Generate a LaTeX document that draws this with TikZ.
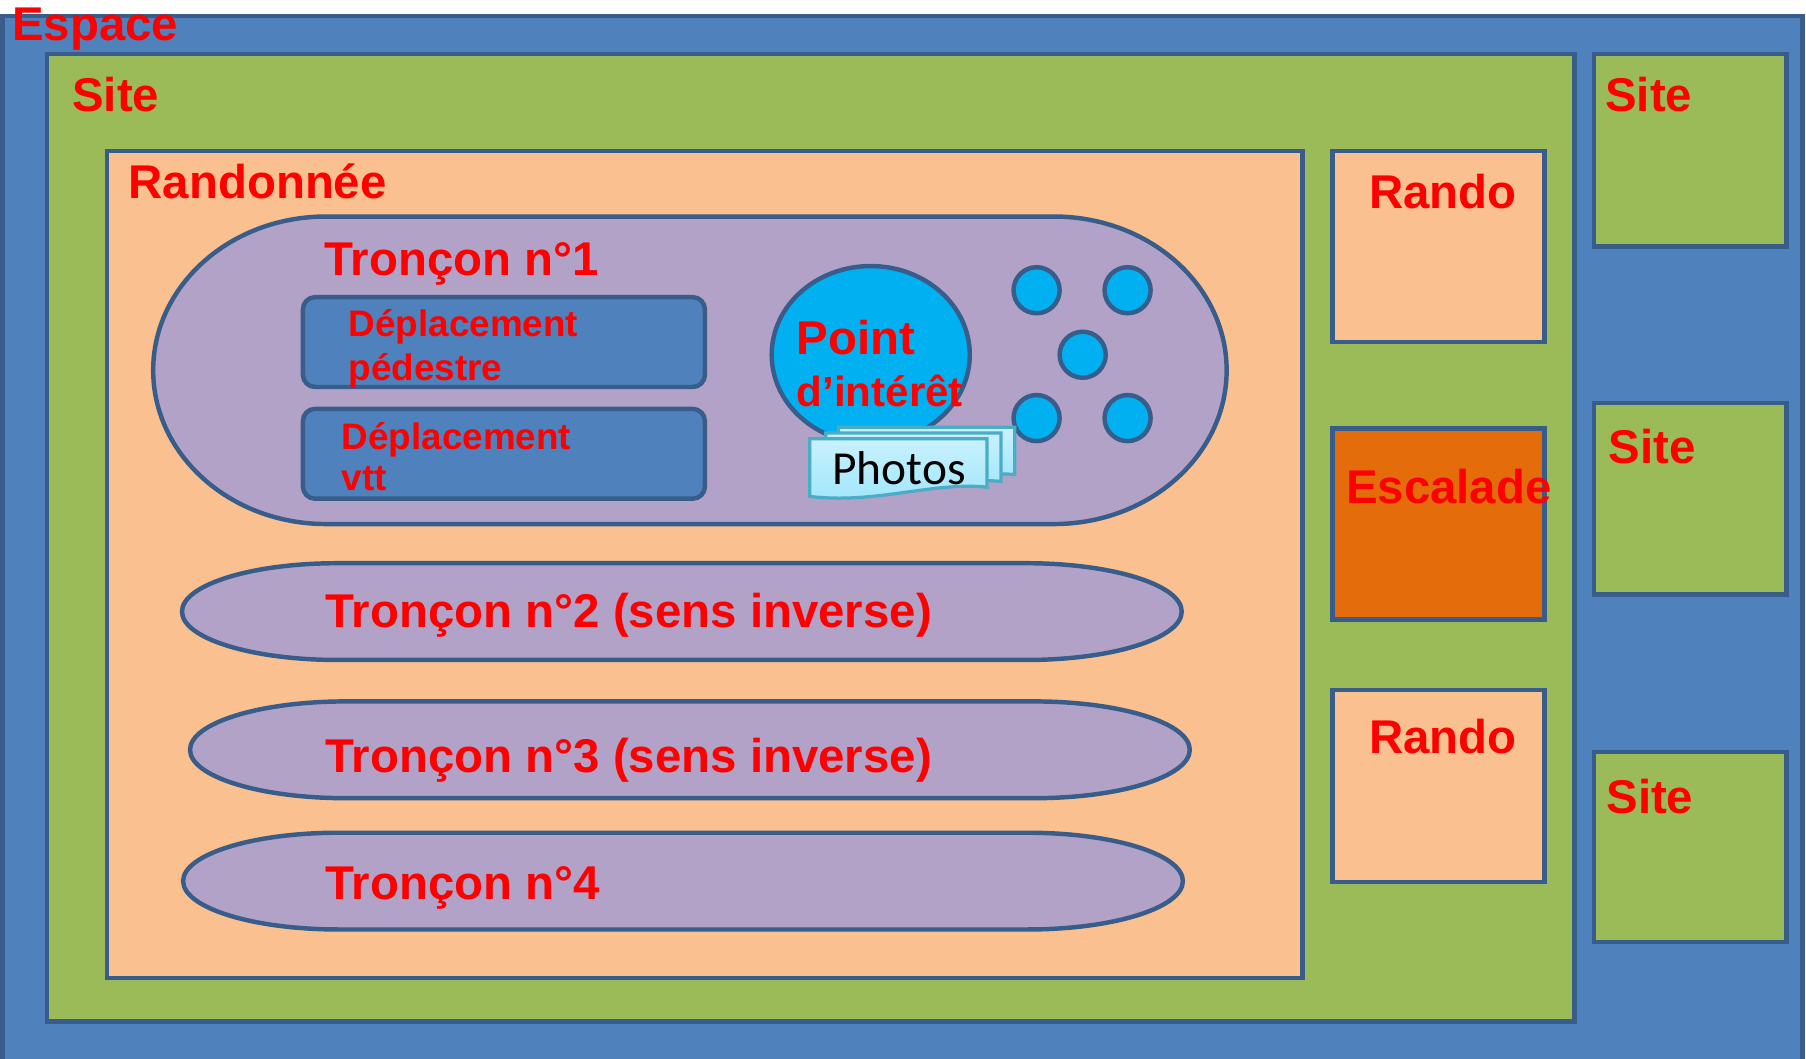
\documentclass[tikz,border=0pt]{standalone}
\usepackage{fontspec}
\setmainfont{Liberation Sans}
\newfontfamily\photofont{Carlito}
\definecolor{espaceblue}{HTML}{4F81BD}
\definecolor{edgeblue}{HTML}{385D8A}
\definecolor{sitegreen}{HTML}{9BBB59}
\definecolor{randopeach}{HTML}{FAC090}
\definecolor{tronconlilac}{HTML}{B2A2C7}
\definecolor{pointcyan}{HTML}{00B0F0}
\definecolor{escaladeorange}{HTML}{E46C0A}
\definecolor{photoedge}{HTML}{4BACC6}
\definecolor{phototop}{HTML}{C9F1FD}
\definecolor{photobottom}{HTML}{9EE6FB}
\begin{document}
\begin{tikzpicture}[x=0.01cm,y=-0.01cm,
  zone/.style={draw=edgeblue,line width=1.1pt},
  troncon/.style={zone,fill=tronconlilac},
  deplbox/.style={zone,fill=espaceblue,rounded corners=3pt},
  dot/.style={zone,fill=pointcyan},
  photobox/.style={draw=photoedge,line width=0.8pt,top color=phototop,bottom color=photobottom},
  lbl/.style={text=red,font=\bfseries\fontsize{11.7}{14}\selectfont,anchor=base west,inner sep=0pt},
  smalllbl/.style={text=red,font=\bfseries\fontsize{9.1}{11}\selectfont,anchor=base west,inner sep=0pt}]
\useasboundingbox (0,0) rectangle (1568,919);
\fill[white] (0,0) rectangle (1568,919);

% Espace
\draw[zone,fill=espaceblue] (2,14) rectangle (1565,930);
\node[lbl] (espace) at (10,35) {Espace};

% Site (main)
\draw[zone,fill=sitegreen] (41,47) rectangle (1367,887);
\node[lbl] (site) at (62,97) {Site};

% Randonnee
\draw[zone,fill=randopeach] (93,131) rectangle (1131,849);
\node[lbl] (randonnee) at (111,172) {Randonnée};

% Troncon 1
\draw[troncon] (283,188) -- (915,188) arc[start angle=-90,end angle=90,x radius=150,y radius=133.5]
  -- (283,455) arc[start angle=90,end angle=270,x radius=150,y radius=133.5] -- cycle;
\node[lbl] (t1) at (281,239) {Tronçon n°1};

\draw[deplbox] (263,258) rectangle (612,336);
\node[smalllbl] (pied) at (302,292) {Déplacement};
\node[smalllbl] (pied2) at (302,330) {pédestre};
\draw[deplbox] (263,355) rectangle (612,433);
\node[smalllbl] (vtt) at (296,390) {Déplacement};
\node[smalllbl] (vtt2) at (296,426) {vtt};

% point d'interet + others
\draw[dot] (756,308) ellipse [x radius=86,y radius=77];
\foreach \x/\y in {900/252,979/252,940/308,900/363,979/363}
  \draw[dot] (\x,\y) circle (20);
\node[lbl] (point) at (691,308) {Point};
\node[lbl,font=\bfseries\fontsize{10.4}{12}\selectfont] (point2) at (691,353) {d’intérêt};

% photos (stack)
\draw[photobox] (728,371) -- (881,371) -- (881,412) .. controls (850,409) and (800,420) .. (728,416) -- cycle;
\draw[photobox] (717,376) -- (869,376) -- (869,418) .. controls (830,414) and (780,428) .. (717,423) -- cycle;
\draw[photobox] (703,381) -- (857,381) -- (857,423) .. controls (810,418) and (760,438) .. (703,431) -- cycle;
\node[font=\photofont\fontsize{11.7}{14}\selectfont,anchor=base west,inner sep=0pt] (photos) at (722,421) {Photos};

% Troncons 2-4
\draw[troncon] (293,489) -- (891,489) arc[start angle=-90,end angle=90,x radius=135,y radius=42]
  -- (293,573) arc[start angle=90,end angle=270,x radius=135,y radius=42] -- cycle;
\node[lbl] (t2) at (282,545) {Tronçon n°2 (sens inverse)};
\draw[troncon] (300,609) -- (898,609) arc[start angle=-90,end angle=90,x radius=135,y radius=42]
  -- (300,693) arc[start angle=90,end angle=270,x radius=135,y radius=42] -- cycle;
\node[lbl] (t3) at (282,671) {Tronçon n°3 (sens inverse)};
\draw[troncon] (294,723) -- (892,723) arc[start angle=-90,end angle=90,x radius=135,y radius=42]
  -- (294,807) arc[start angle=90,end angle=270,x radius=135,y radius=42] -- cycle;
\node[lbl] (t4) at (282,781) {Tronçon n°4};

% other activities of the site
\draw[zone,fill=randopeach] (1157,131) rectangle (1341,297);
\node[lbl] (rando1) at (1188,181) {Rando};
\draw[zone,fill=escaladeorange] (1157,372) rectangle (1341,538);
\node[lbl] (escalade) at (1168,437) {Escalade};
\draw[zone,fill=randopeach] (1157,599) rectangle (1341,766);
\node[lbl] (rando2) at (1188,654) {Rando};

% other sites
\draw[zone,fill=sitegreen] (1384,47) rectangle (1551,214);
\node[lbl] (siteA) at (1393,97) {Site};
\draw[zone,fill=sitegreen] (1384,350) rectangle (1551,516);
\node[lbl] (siteB) at (1396,402) {Site};
\draw[zone,fill=sitegreen] (1384,653) rectangle (1551,818);
\node[lbl] (siteC) at (1394,706) {Site};
\end{tikzpicture}
\end{document}
